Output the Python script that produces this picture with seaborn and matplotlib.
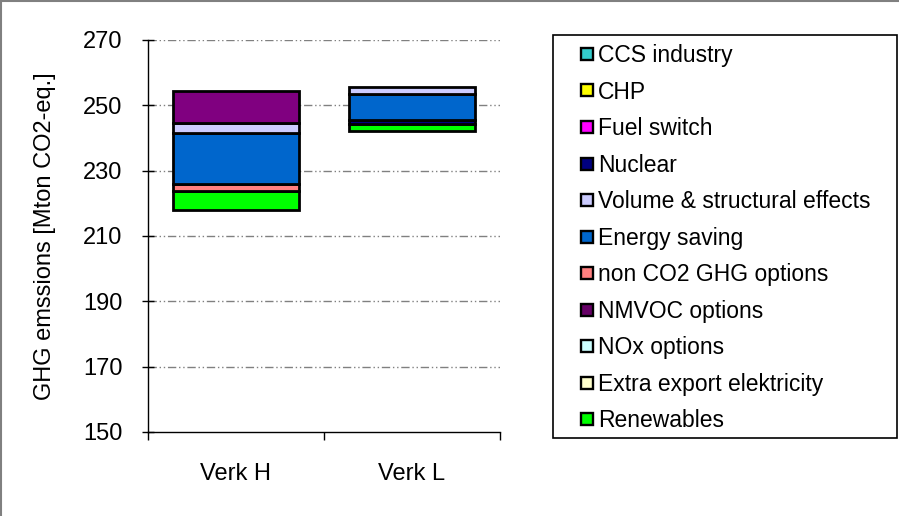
import numpy as np
import pandas as pd
import matplotlib
matplotlib.use("Agg")
import matplotlib.pyplot as plt
from matplotlib.lines import Line2D
from matplotlib.patches import Rectangle
import seaborn as sns

sns.set_style("white")
plt.rcParams['font.family'] = ['Liberation Sans', 'DejaVu Sans']
plt.rcParams['text.color'] = 'black'
plt.rcParams['axes.labelcolor'] = 'black'
plt.rcParams['xtick.color'] = 'black'
plt.rcParams['ytick.color'] = 'black'

# data
scenarios = ["Verk H", "Verk L"]
base = [218.0, 242.0]
# stacking order, bottom to top
renewables = [5.8, 2.2]
nuclear = [0.0, 1.3]
non_co2 = [2.1, 0.0]
energy_saving = [15.5, 8.0]
volume = [3.1, 2.2]
nmvoc = [9.9, 0.0]

stack = [
    ("Renewables", renewables, "#00FF00"),
    ("Nuclear", nuclear, "#000080"),
    ("non CO2 GHG options", non_co2, "#FF8080"),
    ("Energy saving", energy_saving, "#0066CC"),
    ("Volume & structural effects", volume, "#CCCCFF"),
    ("NMVOC options", nmvoc, "#800080"),
]

legend_items = [
    ("CCS industry", "#33CCCC"),
    ("CHP", "#FFFF00"),
    ("Fuel switch", "#FF00FF"),
    ("Nuclear", "#000080"),
    ("Volume & structural effects", "#CCCCFF"),
    ("Energy saving", "#0066CC"),
    ("non CO2 GHG options", "#FF8080"),
    ("NMVOC options", "#660066"),
    ("NOx options", "#CCFFFF"),
    ("Extra export elektricity", "#FFFFCC"),
    ("Renewables", "#00FF00"),
]

W, H = 899, 516
fig = plt.figure(figsize=(W / 100, H / 100), dpi=100)
ax = fig.add_axes([148 / W, 1 - 432 / H, 352 / W, 392 / H])

# gridlines behind bars
for v in range(170, 271, 20):
    ax.axhline(v, color="#808080", lw=1, dashes=(6, 2, 1, 2, 1, 2), zorder=0)

bottom = np.array(base)
for name, vals, col in stack:
    vals = np.array(vals)
    df = pd.DataFrame({"scenario": scenarios, "value": vals})
    sns.barplot(data=df, x="scenario", y="value", bottom=bottom, color=col,
                edgecolor="black", linewidth=2, width=0.72, saturation=1,
                ax=ax, zorder=3)
    bottom = bottom + vals

# remove zero-height bars
for p in list(ax.patches):
    if p.get_height() == 0:
        p.remove()

ax.set_ylim(150, 270)
ax.set_xlim(-0.5, 1.5)
ax.set_yticks(range(150, 271, 20))
ax.set_xlabel("")
ax.set_ylabel("GHG emssions [Mton CO2-eq.]", fontsize=17, labelpad=19)
ax.tick_params(axis="y", left=True, direction="inout", length=9, width=1, labelsize=17, pad=14)
ax.tick_params(axis="x", bottom=True, length=0, labelsize=17, pad=22)
ax.set_xticks([-0.5, 0.5, 1.5], minor=True)
ax.tick_params(axis="x", which="minor", bottom=True, direction="out", length=6, width=1)
for s in ["top", "right"]:
    ax.spines[s].set_visible(False)
for s in ["left", "bottom"]:
    ax.spines[s].set_color("black")
    ax.spines[s].set_linewidth(1)

# legend: frame drawn separately, entries placed inside
fig.patches.append(Rectangle((553 / W, 1 - 438 / H), 344 / W, 403 / H, transform=fig.transFigure,
                             fill=False, edgecolor="black", linewidth=1.2))
handles = [Line2D([], [], marker="s", linestyle="none", markersize=8.5, markerfacecolor=c,
                  markeredgecolor="black", markeredgewidth=1.7, label=n) for n, c in legend_items]
leg = fig.legend(handles=handles, loc="upper left", bbox_to_anchor=(579 / W, 1 - 44 / H),
                 frameon=False, fontsize=16.5, handlelength=0.7, handletextpad=0.12,
                 labelspacing=0.59, borderpad=0, borderaxespad=0)

# outer border (top and left only)
fig.add_artist(Line2D([0, 1], [1 - 1 / H, 1 - 1 / H], transform=fig.transFigure, color="#808080", lw=1.5))
fig.add_artist(Line2D([1 / W, 1 / W], [0, 1], transform=fig.transFigure, color="#808080", lw=1.5))

plt.savefig("out.png", dpi=100)
